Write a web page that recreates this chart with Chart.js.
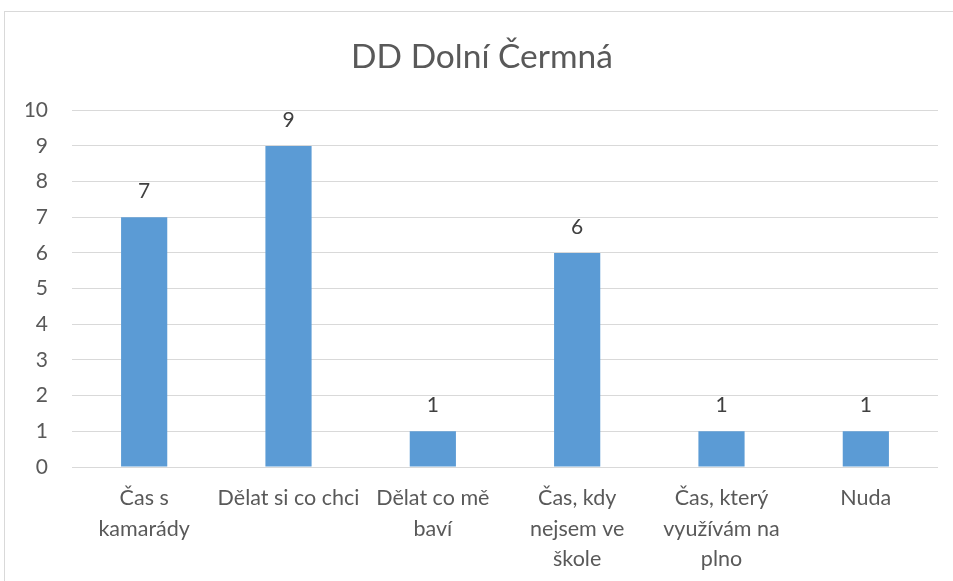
<!DOCTYPE html>
<html>
<head>
<meta charset="utf-8">
<script src="https://cdn.jsdelivr.net/npm/chart.js@4.4.1/dist/chart.umd.min.js"></script>
<style>
  html, body { margin: 0; padding: 0; width: 953px; height: 581px; overflow: hidden; background: #fff; }
  #frame { position: absolute; left: 4px; top: 11px; width: 1000px; height: 700px; border: 1px solid #d9d9d9; box-sizing: border-box; }
  #wrap { position: absolute; left: 0; top: 0; width: 972px; height: 581px; }
</style>
</head>
<body>
<div id="frame"></div>
<div id="wrap"><canvas id="c" width="972" height="581"></canvas></div>
<script>
const chartTitle = "DD Dolní Čermná";
const categories = [
  ["Čas s", "kamarády"],
  ["Dělat si co chci"],
  ["Dělat co mě", "baví"],
  ["Čas, kdy", "nejsem ve", "škole"],
  ["Čas, který", "využívám na", "plno"],
  ["Nuda"]
];
const values = [7, 9, 1, 6, 1, 1];
const yTicks = [0, 1, 2, 3, 4, 5, 6, 7, 8, 9, 10];

const FONT = "Lato, 'Open Sans', sans-serif";
const TEXT = "#595959";

const dataLabels = {
  id: 'dataLabels',
  afterDatasetsDraw(chart) {
    const ctx = chart.ctx;
    ctx.save();
    ctx.font = "21px " + FONT;
    ctx.fillStyle = "#404040";
    ctx.textAlign = "center";
    ctx.textBaseline = "middle";
    chart.getDatasetMeta(0).data.forEach((bar, i) => {
      ctx.fillText(String(values[i]), bar.x, bar.y - 26);
    });
    ctx.restore();
  }
};

new Chart(document.getElementById('c'), {
  type: 'bar',
  data: {
    labels: categories,
    datasets: [{
      data: values,
      backgroundColor: "#5b9bd5",
      borderWidth: 0,
      barPercentage: 0.32,
      categoryPercentage: 1.0
    }]
  },
  options: {
    responsive: false,
    animation: false,
    events: [],
    layout: { padding: { left: 26, right: 34, top: 0, bottom: 0 } },
    plugins: {
      legend: { display: false },
      tooltip: { enabled: false },
      title: {
        display: true,
        text: chartTitle,
        color: TEXT,
        font: { family: FONT, size: 33.5, weight: 'normal', lineHeight: 1.2 },
        padding: { top: 37, bottom: 33 }
      }
    },
    scales: {
      x: {
        grid: { display: false },
        border: { display: false },
        ticks: {
          color: TEXT,
          font: { family: FONT, size: 21.5, lineHeight: 1.42 },
          maxRotation: 0,
          minRotation: 0,
          autoSkip: false,
          padding: 8
        },
        afterFit(s) { s.height = 114; }
      },
      y: {
        min: 0,
        max: 10,
        afterBuildTicks(s) { s.ticks = yTicks.map(v => ({ value: v })); },
        grid: { color: "#d9d9d9", lineWidth: 1, drawTicks: false },
        border: { display: false },
        ticks: {
          color: TEXT,
          font: { family: FONT, size: 21 },
          padding: 24
        },
        afterFit(s) { s.width = 46; }
      }
    }
  },
  plugins: [dataLabels]
});
</script>
</body>
</html>
